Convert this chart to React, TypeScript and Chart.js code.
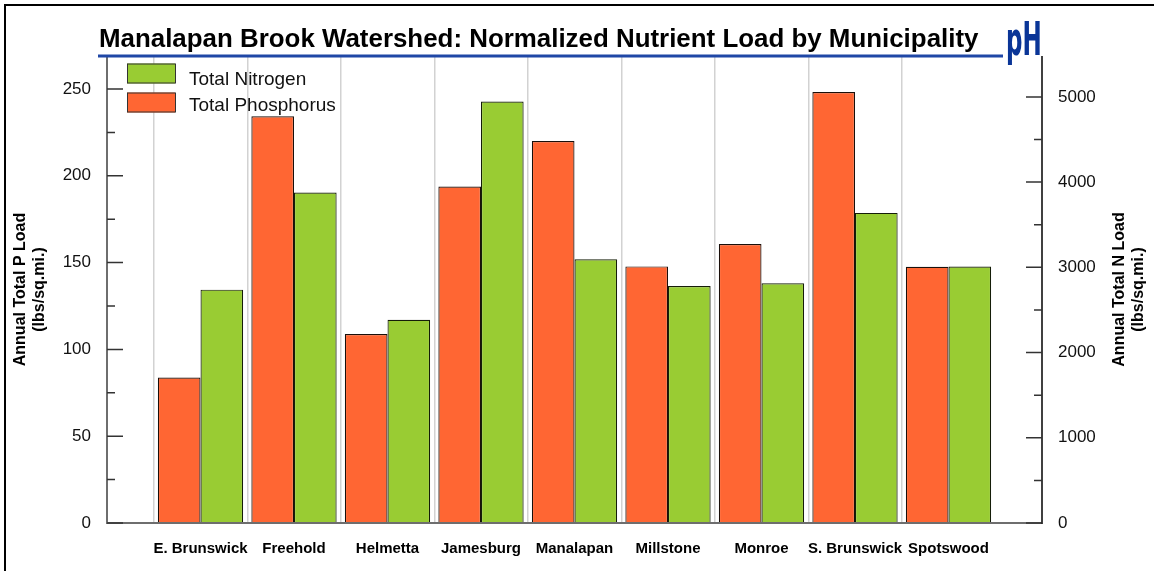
import React, { useEffect, useRef } from 'react';
import { Chart, registerables } from 'chart.js';

Chart.register(...registerables);

const FONT = '"Liberation Sans", Arial, Helvetica, sans-serif';

const chartTitle = 'Manalapan Brook Watershed: Normalized Nutrient Load by Municipality';
const municipalities = [
  'E. Brunswick',
  'Freehold',
  'Helmetta',
  'Jamesburg',
  'Manalapan',
  'Millstone',
  'Monroe',
  'S. Brunswick',
  'Spotswood',
];
// Annual Total P Load (lbs/sq.mi.) - left axis
const phosphorus = [83.8, 234.3, 108.8, 193.8, 220.0, 147.8, 160.7, 248.2, 147.6];
// Annual Total N Load (lbs/sq.mi.) - right axis
const nitrogen = [2738, 3879, 2385, 4945, 3094, 2780, 2812, 3639, 3010];

const pAxisMax = 269;
const pTickValues = [0, 50, 100, 150, 200, 250];
const pMinorTicks = [25, 75, 125, 175, 225];
const nAxisMax = 5480;
const nTickValues = [0, 1000, 2000, 3000, 4000, 5000];
const nMinorTicks = [500, 1500, 2500, 3500, 4500];

const legendNames = ['Total Nitrogen', 'Total Phosphorus'];
const pTitle = ['Annual Total P Load', '(lbs/sq.mi.)'];
const nTitle = ['Annual Total N Load', '(lbs/sq.mi.)'];

const RED = '#FF6633';
const GREEN = '#99CC33';

const decorPlugin = {
  id: 'decor',
  afterDraw(chart: any) {
    const ctx = chart.ctx as CanvasRenderingContext2D;
    const { left, right, top, bottom } = chart.chartArea;
    const yP = chart.scales.yP;
    const yN = chart.scales.yN;
    ctx.save();

    // axis lines
    ctx.lineCap = 'butt';
    ctx.strokeStyle = '#6e6e6e';
    ctx.lineWidth = 2;
    ctx.beginPath();
    ctx.moveTo(left, top);
    ctx.lineTo(left, bottom);
    ctx.lineTo(right, bottom);
    ctx.stroke();
    ctx.strokeStyle = '#000';
    ctx.lineWidth = 1.5;
    ctx.beginPath();
    ctx.moveTo(right, top);
    ctx.lineTo(right, bottom + 1);
    ctx.stroke();

    // tick marks (inside)
    ctx.strokeStyle = '#333';
    ctx.lineWidth = 1.5;
    ctx.beginPath();
    pTickValues.forEach((v) => {
      const y = yP.getPixelForValue(v);
      ctx.moveTo(left, y);
      ctx.lineTo(left + 16, y);
    });
    pMinorTicks.forEach((v) => {
      const y = yP.getPixelForValue(v);
      ctx.moveTo(left, y);
      ctx.lineTo(left + 8, y);
    });
    nTickValues.forEach((v) => {
      const y = yN.getPixelForValue(v);
      ctx.moveTo(right, y);
      ctx.lineTo(right - 16, y);
    });
    nMinorTicks.forEach((v) => {
      const y = yN.getPixelForValue(v);
      ctx.moveTo(right, y);
      ctx.lineTo(right - 8, y);
    });
    ctx.stroke();

    // outer frame (top and left)
    ctx.strokeStyle = '#000';
    ctx.lineWidth = 2;
    ctx.beginPath();
    ctx.moveTo(5, 571);
    ctx.lineTo(5, 5);
    ctx.lineTo(1154, 5);
    ctx.stroke();

    // title
    ctx.fillStyle = '#000';
    ctx.font = 'bold 25.9px ' + FONT;
    ctx.textAlign = 'left';
    ctx.textBaseline = 'alphabetic';
    ctx.fillText(chartTitle, 99, 47);

    // blue rule
    ctx.fillStyle = '#1f47a6';
    ctx.fillRect(98, 54.5, 905, 3);

    // logo
    ctx.save();
    ctx.translate(1006, 55);
    ctx.scale(0.5, 1);
    ctx.font = 'bold 46px "DejaVu Sans", sans-serif';
    ctx.fillStyle = '#0a3597';
    ctx.fillText('pH', 0, 0);
    ctx.restore();

    // legend
    const colors = [GREEN, RED];
    const boxY = [63.5, 92.5];
    const textBase = [85, 111];
    ctx.font = '19px ' + FONT;
    ctx.textBaseline = 'alphabetic';
    legendNames.forEach((name, i) => {
      ctx.fillStyle = colors[i];
      ctx.fillRect(127, boxY[i], 48, 20);
      ctx.strokeStyle = '#333';
      ctx.lineWidth = 1;
      ctx.strokeRect(127.5, boxY[i] + 0.5, 48, 19);
      ctx.fillStyle = '#111';
      ctx.fillText(name, 189, textBase[i]);
    });

    // axis titles
    ctx.font = 'bold 16px ' + FONT;
    ctx.textAlign = 'center';
    ctx.textBaseline = 'middle';
    ctx.fillStyle = '#000';
    const midY = (top + bottom) / 2;
    ([[21, pTitle], [1120, nTitle]] as any[]).forEach(([x, lines]) => {
      ctx.save();
      ctx.translate(x, midY);
      ctx.rotate(-Math.PI / 2);
      (lines as string[]).forEach((t, i) => ctx.fillText(t, 0, i * 18.5));
      ctx.restore();
    });

    ctx.restore();
  },
};

export default function App() {
  const ref = useRef<HTMLCanvasElement>(null);

  useEffect(() => {
    if (!ref.current) return;
    const labels = ['', ...municipalities, ''];
    const chart = new Chart(ref.current, {
      type: 'bar',
      data: {
        labels,
        datasets: [
          {
            label: 'Total Phosphorus',
            data: [null, ...phosphorus, null],
            backgroundColor: RED,
            borderColor: '#1a0f0a',
            borderWidth: 1.2,
            yAxisID: 'yP',
            categoryPercentage: 0.912,
            barPercentage: 1,
          },
          {
            label: 'Total Nitrogen',
            data: [null, ...nitrogen, null],
            backgroundColor: GREEN,
            borderColor: '#151d08',
            borderWidth: 1.2,
            yAxisID: 'yN',
            categoryPercentage: 0.912,
            barPercentage: 1,
          },
        ],
      },
      options: {
        responsive: false,
        animation: false,
        devicePixelRatio: 1,
        layout: { padding: { top: 56, left: 0, right: 0, bottom: 0 } },
        plugins: {
          legend: { display: false },
          title: { display: false },
          tooltip: { enabled: false },
        },
        scales: {
          x: {
            type: 'category',
            offset: false,
            afterFit: (s: any) => {
              s.height = 48;
            },
            grid: {
              drawTicks: false,
              color: (c: any) =>
                c.index === 0 || c.index === labels.length - 1 ? 'rgba(0,0,0,0)' : '#d2d2d2',
              lineWidth: 1.5,
            },
            border: { display: false },
            ticks: {
              autoSkip: false,
              maxRotation: 0,
              minRotation: 0,
              padding: 17,
              color: '#000',
              font: { family: FONT, size: 15, weight: 'bold' },
            },
          },
          yP: {
            type: 'linear',
            position: 'left',
            min: 0,
            max: pAxisMax,
            afterFit: (s: any) => {
              s.width = 107;
            },
            afterBuildTicks: (s: any) => {
              s.ticks = pTickValues.map((value) => ({ value }));
            },
            grid: { display: false, drawTicks: false },
            border: { display: false },
            ticks: {
              padding: 16,
              color: '#111',
              font: { family: FONT, size: 17 },
              callback: (v: any) => String(v),
            },
          },
          yN: {
            type: 'linear',
            position: 'right',
            min: 0,
            max: nAxisMax,
            afterFit: (s: any) => {
              s.width = 112;
            },
            afterBuildTicks: (s: any) => {
              s.ticks = nTickValues.map((value) => ({ value }));
            },
            grid: { display: false, drawTicks: false },
            border: { display: false },
            ticks: {
              padding: 16,
              color: '#111',
              font: { family: FONT, size: 17 },
              callback: (v: any) => String(v),
            },
          },
        },
      } as any,
      plugins: [decorPlugin],
    });
    return () => chart.destroy();
  }, []);

  return (
    <div style={{ position: 'absolute', left: 0, top: 0, width: 1154, height: 571, background: '#fff' }}>
      <canvas ref={ref} width={1154} height={571} />
    </div>
  );
}
